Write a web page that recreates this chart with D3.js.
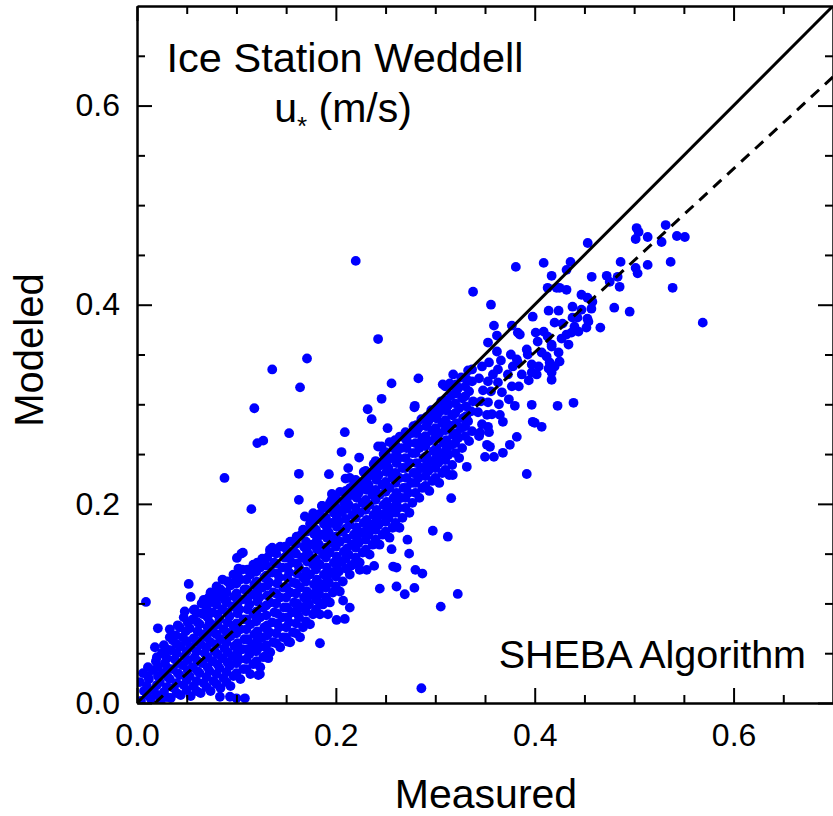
<!DOCTYPE html>
<html>
<head>
<meta charset="utf-8">
<script src="https://d3js.org/d3.v7.min.js"></script>
<style>
  body { margin: 0; background: #fff; }
  svg { display: block; font-family: "Liberation Sans", Arial, sans-serif; }
</style>
</head>
<body>
<svg id="chart" width="833" height="816"></svg>
<script>
// u* measured vs modeled, [measured, modeled] pairs

// dense band, x < 0.12
var bandLow = [
  [0.004,0.002],[0.007,0.012],[0.003,0.021],[0.006,0.030],
  [0.014,0.004],[0.017,0.013],[0.012,0.024],[0.016,0.033],[0.019,0.042],
  [0.024,0.002],[0.027,0.011],[0.023,0.021],[0.026,0.030],[0.028,0.040],[0.025,0.050],[0.027,0.058],
  [0.034,0.005],[0.037,0.015],[0.033,0.024],[0.036,0.034],[0.038,0.044],[0.034,0.053],[0.036,0.063],[0.033,0.074],
  [0.044,0.008],[0.047,0.018],[0.043,0.028],[0.046,0.038],[0.048,0.047],[0.044,0.057],[0.046,0.066],[0.043,0.076],[0.047,0.086],
  [0.054,0.007],[0.057,0.017],[0.053,0.027],[0.056,0.036],[0.058,0.046],[0.054,0.056],[0.057,0.065],[0.053,0.075],[0.056,0.084],[0.058,0.094],
  [0.064,0.010],[0.067,0.020],[0.063,0.030],[0.066,0.040],[0.068,0.050],[0.064,0.059],[0.066,0.069],[0.063,0.079],[0.067,0.089],[0.065,0.100],
  [0.074,0.012],[0.077,0.022],[0.073,0.032],[0.076,0.042],[0.078,0.052],[0.074,0.061],[0.077,0.071],[0.073,0.081],[0.076,0.091],[0.078,0.101],[0.074,0.111],
  [0.084,0.015],[0.087,0.025],[0.083,0.035],[0.086,0.045],[0.088,0.055],[0.084,0.064],[0.087,0.074],[0.083,0.084],[0.086,0.094],[0.088,0.104],[0.084,0.114],[0.086,0.124],
  [0.094,0.017],[0.097,0.027],[0.093,0.037],[0.096,0.047],[0.098,0.057],[0.094,0.067],[0.097,0.077],[0.093,0.087],[0.096,0.097],[0.098,0.107],[0.094,0.118],[0.097,0.129],
  [0.104,0.024],[0.107,0.034],[0.103,0.044],[0.106,0.054],[0.108,0.064],[0.104,0.074],[0.107,0.084],[0.103,0.094],[0.106,0.104],[0.108,0.114],[0.104,0.124],[0.106,0.134],
  [0.114,0.029],[0.117,0.039],[0.113,0.049],[0.116,0.059],[0.118,0.069],[0.114,0.079],[0.117,0.089],[0.113,0.099],[0.116,0.109],[0.118,0.119],[0.114,0.129],[0.117,0.139]
];

// dense band, 0.12 - 0.24
var bandMid = [
  [0.124,0.036],[0.127,0.046],[0.123,0.056],[0.126,0.066],[0.128,0.076],[0.124,0.086],[0.127,0.096],[0.123,0.106],[0.126,0.116],[0.128,0.126],[0.124,0.136],[0.126,0.145],
  [0.134,0.051],[0.137,0.061],[0.133,0.071],[0.136,0.081],[0.138,0.091],[0.134,0.101],[0.137,0.111],[0.133,0.121],[0.136,0.131],[0.138,0.141],[0.134,0.151],
  [0.144,0.056],[0.147,0.066],[0.143,0.076],[0.146,0.086],[0.148,0.096],[0.144,0.106],[0.147,0.116],[0.143,0.126],[0.146,0.136],[0.148,0.146],[0.144,0.157],
  [0.154,0.061],[0.157,0.071],[0.153,0.081],[0.156,0.091],[0.158,0.101],[0.154,0.111],[0.157,0.121],[0.153,0.131],[0.156,0.141],[0.158,0.152],[0.154,0.162],
  [0.164,0.066],[0.167,0.076],[0.163,0.086],[0.166,0.096],[0.168,0.106],[0.164,0.116],[0.167,0.126],[0.163,0.136],[0.166,0.146],[0.168,0.157],[0.164,0.168],
  [0.174,0.079],[0.177,0.089],[0.173,0.099],[0.176,0.109],[0.178,0.119],[0.174,0.129],[0.177,0.139],[0.173,0.149],[0.176,0.159],[0.178,0.170],[0.174,0.180],
  [0.184,0.089],[0.187,0.099],[0.183,0.109],[0.186,0.119],[0.188,0.129],[0.184,0.139],[0.187,0.149],[0.183,0.159],[0.186,0.169],[0.188,0.180],[0.184,0.190],[0.186,0.198],
  [0.194,0.101],[0.197,0.111],[0.193,0.121],[0.196,0.131],[0.198,0.141],[0.194,0.151],[0.197,0.161],[0.193,0.171],[0.196,0.181],[0.198,0.191],[0.194,0.201],[0.196,0.210],
  [0.204,0.112],[0.207,0.122],[0.203,0.132],[0.206,0.142],[0.208,0.152],[0.204,0.162],[0.207,0.172],[0.203,0.182],[0.206,0.192],[0.208,0.202],[0.204,0.212],
  [0.214,0.129],[0.217,0.139],[0.213,0.149],[0.216,0.159],[0.218,0.169],[0.214,0.179],[0.217,0.189],[0.213,0.199],[0.216,0.209],[0.218,0.219],[0.214,0.226],
  [0.224,0.141],[0.227,0.151],[0.223,0.161],[0.226,0.171],[0.228,0.181],[0.224,0.191],[0.227,0.201],[0.223,0.211],[0.226,0.221],[0.228,0.232],
  [0.234,0.149],[0.237,0.159],[0.233,0.169],[0.236,0.179],[0.238,0.189],[0.234,0.199],[0.237,0.209],[0.233,0.219],[0.236,0.229],[0.238,0.240]
];

// dense band, x > 0.24
var bandHigh = [
  [0.244,0.159],[0.247,0.169],[0.243,0.179],[0.246,0.189],[0.248,0.199],[0.244,0.209],[0.247,0.219],[0.243,0.229],[0.246,0.239],[0.248,0.250],
  [0.254,0.166],[0.257,0.176],[0.253,0.186],[0.256,0.196],[0.258,0.206],[0.254,0.216],[0.257,0.226],[0.253,0.236],[0.256,0.246],[0.258,0.256],[0.254,0.262],
  [0.264,0.176],[0.267,0.186],[0.263,0.196],[0.266,0.206],[0.268,0.216],[0.264,0.226],[0.267,0.236],[0.263,0.246],[0.266,0.256],[0.268,0.267],
  [0.274,0.191],[0.277,0.201],[0.273,0.211],[0.276,0.221],[0.278,0.231],[0.274,0.241],[0.277,0.251],[0.273,0.261],[0.276,0.271],[0.278,0.278],
  [0.284,0.206],[0.287,0.216],[0.283,0.226],[0.286,0.236],[0.288,0.246],[0.284,0.256],[0.287,0.266],[0.283,0.276],[0.286,0.285],
  [0.294,0.213],[0.297,0.223],[0.293,0.233],[0.296,0.243],[0.298,0.253],[0.294,0.263],[0.297,0.273],[0.293,0.283],[0.296,0.294],
  [0.304,0.221],[0.307,0.231],[0.303,0.241],[0.306,0.251],[0.308,0.261],[0.304,0.271],[0.307,0.281],[0.303,0.291],[0.306,0.303],
  [0.314,0.229],[0.317,0.239],[0.313,0.249],[0.316,0.259],[0.318,0.269],[0.314,0.279],[0.317,0.289],[0.313,0.299],[0.316,0.309],[0.318,0.318],
  [0.324,0.246],[0.327,0.256],[0.323,0.266],[0.326,0.276],[0.328,0.286],[0.324,0.296],[0.327,0.306],[0.323,0.316],[0.326,0.327],
  [0.334,0.263],[0.337,0.273],[0.333,0.283],[0.336,0.293],[0.338,0.303],[0.334,0.313],[0.337,0.323],[0.333,0.334],
  [0.344,0.268],[0.347,0.280],[0.343,0.292],[0.346,0.303],[0.348,0.314],[0.344,0.326],[0.347,0.338],
  [0.354,0.272],[0.357,0.290],[0.353,0.302],[0.356,0.313],[0.358,0.330],[0.354,0.342],
  [0.364,0.300],[0.367,0.312],[0.363,0.322],[0.366,0.344],
  [0.374,0.305],[0.377,0.318],[0.373,0.330],[0.376,0.350],
  [0.384,0.318],[0.387,0.330],[0.383,0.342],
  [0.394,0.324],[0.397,0.340],[0.393,0.350],
  [0.404,0.338],[0.407,0.352],
  [0.414,0.336],[0.417,0.360],[0.413,0.368],
  [0.424,0.352],[0.427,0.366],
  [0.434,0.360],[0.437,0.372],
  [0.444,0.373],[0.447,0.395],
  [0.454,0.383],[0.457,0.396]
];

// extra points filling the gaps of the densest part
var bandFill = [
  [0.010,0.008],[0.011,0.027],[0.020,0.018],[0.021,0.036],[0.030,0.006],[0.031,0.026],[0.030,0.045],
  [0.040,0.010],[0.041,0.030],[0.040,0.050],[0.039,0.068],[0.050,0.013],[0.051,0.033],[0.050,0.052],[0.049,0.072],
  [0.060,0.012],[0.061,0.032],[0.060,0.052],[0.061,0.072],[0.060,0.090],[0.070,0.016],[0.071,0.036],[0.070,0.056],
  [0.071,0.076],[0.070,0.095],[0.080,0.019],[0.081,0.039],[0.080,0.059],[0.081,0.079],[0.080,0.099],[0.080,0.117],
  [0.090,0.021],[0.091,0.041],[0.090,0.061],[0.091,0.081],[0.090,0.101],[0.091,0.122],[0.100,0.030],[0.101,0.050],
  [0.100,0.070],[0.101,0.090],[0.100,0.110],[0.101,0.128],[0.110,0.034],[0.111,0.054],[0.110,0.074],[0.111,0.094],
  [0.110,0.114],[0.111,0.134],[0.120,0.042],[0.121,0.062],[0.120,0.082],[0.121,0.102],[0.120,0.122],[0.121,0.141],
  [0.130,0.048],[0.131,0.068],[0.130,0.088],[0.131,0.108],[0.130,0.128],[0.131,0.146],[0.140,0.060],[0.141,0.080],
  [0.140,0.100],[0.141,0.120],[0.140,0.140],[0.150,0.066],[0.151,0.086],[0.150,0.106],[0.151,0.126],[0.150,0.146],
  [0.160,0.070],[0.161,0.090],[0.160,0.110],[0.161,0.130],[0.160,0.150],[0.170,0.082],[0.171,0.102],[0.170,0.122],
  [0.171,0.142],[0.170,0.162],[0.180,0.094],[0.181,0.114],[0.180,0.134],[0.181,0.154],[0.180,0.174],[0.190,0.106],
  [0.191,0.126],[0.190,0.146],[0.191,0.166],[0.190,0.186],[0.200,0.117],[0.201,0.137],[0.200,0.157],[0.201,0.177],
  [0.200,0.197],[0.210,0.135],[0.211,0.155],[0.210,0.175],[0.211,0.195],[0.210,0.213],[0.220,0.146],[0.221,0.166],
  [0.220,0.186],[0.221,0.206],[0.220,0.224],[0.230,0.154],[0.231,0.174],[0.230,0.194],[0.231,0.214],[0.230,0.233],
  [0.240,0.164],[0.241,0.184],[0.240,0.204],[0.241,0.224],[0.240,0.243],[0.250,0.172],[0.251,0.192],[0.250,0.212],
  [0.251,0.232],[0.250,0.252],[0.260,0.181],[0.261,0.201],[0.260,0.221],[0.261,0.241],[0.260,0.259],[0.270,0.196],
  [0.271,0.216],[0.270,0.236],[0.271,0.256],[0.270,0.272],[0.280,0.211],[0.281,0.231],[0.280,0.251],[0.281,0.271],
  [0.290,0.218],[0.291,0.238],[0.290,0.258],[0.291,0.278],[0.300,0.226],[0.301,0.246],[0.300,0.266],[0.301,0.286],
  [0.310,0.234],[0.311,0.254],[0.310,0.274],[0.311,0.294],[0.320,0.251],[0.321,0.271],[0.320,0.291],[0.321,0.311],
  [0.330,0.268],[0.331,0.288],[0.330,0.308],[0.331,0.326]
];

// second pass of fill points, between the rows above
var bandFill2 = [
  [0.010,0.017],[0.011,0.036],[0.020,0.008],[0.021,0.027],[0.020,0.046],[0.030,0.016],[0.031,0.035],[0.030,0.054],
  [0.040,0.020],[0.041,0.040],[0.040,0.059],[0.041,0.078],[0.050,0.023],[0.051,0.043],[0.050,0.062],[0.051,0.081],
  [0.060,0.022],[0.061,0.042],[0.060,0.062],[0.061,0.081],[0.070,0.026],[0.071,0.046],[0.070,0.066],[0.071,0.086],
  [0.070,0.104],[0.080,0.029],[0.081,0.049],[0.080,0.069],[0.081,0.089],[0.080,0.108],[0.090,0.031],[0.091,0.051],
  [0.090,0.071],[0.091,0.091],[0.090,0.111],[0.100,0.040],[0.101,0.060],[0.100,0.080],[0.101,0.100],[0.100,0.120],
  [0.110,0.044],[0.111,0.064],[0.110,0.084],[0.111,0.104],[0.110,0.124],[0.120,0.052],[0.121,0.072],[0.120,0.092],
  [0.121,0.112],[0.120,0.132],[0.130,0.058],[0.131,0.078],[0.130,0.098],[0.131,0.118],[0.130,0.138],[0.140,0.070],
  [0.141,0.090],[0.140,0.110],[0.141,0.130],[0.140,0.150],[0.150,0.076],[0.151,0.096],[0.150,0.116],[0.151,0.136],
  [0.150,0.155],[0.160,0.080],[0.161,0.100],[0.160,0.120],[0.161,0.140],[0.160,0.160],[0.170,0.092],[0.171,0.112],
  [0.170,0.132],[0.171,0.152],[0.170,0.172],[0.180,0.104],[0.181,0.124],[0.180,0.144],[0.181,0.164],[0.180,0.184],
  [0.190,0.116],[0.191,0.136],[0.190,0.156],[0.191,0.176],[0.190,0.196],[0.200,0.127],[0.201,0.147],[0.200,0.167],
  [0.201,0.187],[0.200,0.206],[0.210,0.145],[0.211,0.165],[0.210,0.185],[0.211,0.204],[0.220,0.156],[0.221,0.176],
  [0.220,0.196],[0.221,0.215],[0.230,0.164],[0.231,0.184],[0.230,0.204],[0.231,0.224],[0.240,0.174],[0.241,0.194],
  [0.240,0.214],[0.241,0.234],[0.250,0.182],[0.251,0.202],[0.250,0.222],[0.251,0.242],[0.260,0.191],[0.261,0.211],
  [0.260,0.231],[0.261,0.251],[0.270,0.206],[0.271,0.226],[0.270,0.246],[0.271,0.264],[0.280,0.221],[0.281,0.241],
  [0.280,0.261],[0.281,0.279],[0.290,0.228],[0.291,0.248],[0.290,0.268],[0.291,0.287],[0.300,0.236],[0.301,0.256],
  [0.300,0.276],[0.301,0.296],[0.310,0.244],[0.311,0.264],[0.310,0.284],[0.311,0.304],[0.320,0.261],[0.321,0.281],
  [0.320,0.301],[0.321,0.320],[0.330,0.278],[0.331,0.298],[0.330,0.318]
];

// scattered points above the band
var scatterAbove = [
  [0.009,0.1015],[0.021,0.075],[0.018,0.056],[0.033,0.066],[0.048,0.092],[0.052,0.1196],[0.054,0.1065],
  [0.057,0.0935],[0.065,0.090],[0.067,0.1035],[0.072,0.1005],[0.073,0.107],[0.082,0.107],[0.087,0.107],
  [0.090,0.1035],[0.088,0.226],[0.097,0.120],[0.1005,0.1457],[0.102,0.135],[0.105,0.150],[0.1065,0.151],
  [0.115,0.1947],[0.118,0.296],[0.121,0.261],[0.127,0.2635],[0.1337,0.154],[0.136,0.156],[0.136,0.335],
  [0.149,0.157],[0.153,0.271],[0.154,0.149],[0.1605,0.167],[0.164,0.317],[0.167,0.174],[0.171,0.346],
  [0.1628,0.2302],[0.1628,0.204],[0.1688,0.1873],[0.1756,0.1856],[0.1772,0.1906],[0.1862,0.198],
  [0.1873,0.184],[0.193,0.2298],[0.1957,0.204],[0.204,0.194],[0.2057,0.252],[0.209,0.272],[0.2097,0.2254],
  [0.2124,0.2359],[0.214,0.2158],[0.220,0.444],[0.2234,0.2465],[0.224,0.2174],[0.2308,0.229],[0.232,0.295],
  [0.236,0.285],[0.240,0.2375],[0.2425,0.3655],[0.2425,0.2576],[0.246,0.2576],[0.246,0.3055],[0.251,0.244],
  [0.252,0.276],[0.256,0.321],[0.2576,0.261],[0.2595,0.264],[0.2643,0.2676],[0.271,0.266],[0.2777,0.2727],
  [0.279,0.297],[0.2794,0.2985],[0.283,0.326],[0.2877,0.261],[0.2962,0.2877],[0.3012,0.271],[0.3079,0.2945],
  [0.3075,0.320],[0.310,0.318],[0.3146,0.321],[0.318,0.330],[0.337,0.335],[0.338,0.413]
];

// scattered points below the band
var scatterBelow = [
  [0.0834,0.0063],[0.0935,0.0063],[0.100,0.0047],[0.1085,0.0047],[0.122,0.028],[0.1236,0.029],
  [0.1286,0.0566],[0.132,0.045],[0.152,0.0616],[0.1605,0.0935],[0.183,0.112],[0.184,0.100],[0.184,0.060],
  [0.1906,0.104],[0.192,0.089],[0.2007,0.0834],[0.209,0.0844],[0.2073,0.1028],[0.214,0.0958],[0.215,0.1377],
  [0.224,0.1337],[0.231,0.1337],[0.2385,0.1377],[0.2442,0.1149],[0.256,0.1545],[0.2576,0.137],[0.261,0.136],
  [0.261,0.117],[0.2693,0.1092],[0.272,0.164],[0.2737,0.150],[0.279,0.1156],[0.280,0.1337],[0.287,0.130],
  [0.286,0.0148],[0.2975,0.173],[0.3055,0.0968],[0.3126,0.167],[0.316,0.2057],[0.3226,0.1095],[0.3176,0.229],
  [0.3317,0.2372],[0.345,0.2714],[0.350,0.2472],[0.352,0.2593],[0.355,0.2573],[0.359,0.2472],[0.368,0.2513],
  [0.352,0.2894],[0.353,0.2774],[0.365,0.2894],[0.368,0.2824],[0.375,0.2593],[0.382,0.2673],[0.380,0.2985],
  [0.392,0.230],[0.397,0.2995],[0.398,0.2824],[0.407,0.2774],[0.400,0.2814],[0.417,0.3246],[0.423,0.2985],
  [0.439,0.3015]
];

// upper-right points
var scatterTop = [
  [0.356,0.400],[0.359,0.379],[0.362,0.369],[0.353,0.362],[0.362,0.353],[0.363,0.335],[0.353,0.323],
  [0.377,0.379],[0.381,0.438],[0.383,0.372],[0.385,0.370],[0.378,0.338],[0.382,0.345],[0.392,0.355],
  [0.397,0.332],[0.398,0.388],[0.401,0.372],[0.402,0.330],[0.403,0.363],[0.409,0.373],[0.409,0.442],
  [0.412,0.348],[0.413,0.417],[0.414,0.394],[0.415,0.342],[0.417,0.429],[0.417,0.358],[0.417,0.332],
  [0.420,0.382],[0.420,0.338],[0.422,0.417],[0.424,0.394],[0.425,0.343],[0.425,0.417],[0.428,0.381],
  [0.432,0.435],[0.432,0.415],[0.432,0.370],[0.436,0.443],[0.438,0.398],[0.438,0.387],[0.440,0.378],
  [0.443,0.387],[0.447,0.410],[0.452,0.377],[0.453,0.407],[0.453,0.386],[0.4533,0.462],[0.4573,0.428],
  [0.458,0.403],[0.466,0.377],[0.4724,0.429],[0.4754,0.423],[0.480,0.397],[0.4834,0.428],[0.4854,0.418],
  [0.4864,0.443],[0.4955,0.393],[0.5015,0.437],[0.5035,0.4315],[0.5015,0.466],[0.5025,0.477],[0.5045,0.473],
  [0.5136,0.468],[0.5136,0.440],[0.5276,0.463],[0.5317,0.480],[0.5367,0.443],[0.5387,0.417],[0.543,0.469],
  [0.551,0.468],[0.569,0.382]
];

// dashed fit line: modeled = slope * measured + intercept
var fitSlope = 0.922, fitIntercept = -0.0166;

var majorTicks = [0, 0.2, 0.4, 0.6];
var minorTicks = [0.05, 0.1, 0.15, 0.25, 0.3, 0.35, 0.45, 0.5, 0.55, 0.65];

var svg = d3.select("#chart"),
    margin = {top: 6, right: 0, bottom: 113, left: 137},
    width  = +svg.attr("width")  - margin.left - margin.right,
    height = +svg.attr("height") - margin.top  - margin.bottom;

var x = d3.scaleLinear().domain([0, 0.7]).range([0, width]),
    y = d3.scaleLinear().domain([0, 0.7]).range([height, 0]);

svg.append("rect").attr("width", 833).attr("height", 816).attr("fill", "#fff");

svg.append("defs").append("clipPath")
    .attr("id", "clip")
  .append("rect")
    .attr("width", width)
    .attr("height", height);

var g = svg.append("g")
    .attr("transform", "translate(" + margin.left + "," + margin.top + ")");

var points = bandLow.concat(bandMid, bandHigh, bandFill, bandFill2, scatterAbove, scatterBelow, scatterTop);

g.append("g")
    .attr("clip-path", "url(#clip)")
  .selectAll("circle")
  .data(points)
  .enter().append("circle")
    .attr("cx", function(d) { return x(d[0]); })
    .attr("cy", function(d) { return y(d[1]); })
    .attr("r", 4.9)
    .attr("fill", "#0000ff");

var line = d3.line()
    .x(function(d) { return x(d[0]); })
    .y(function(d) { return y(d[1]); });

var lines = g.append("g").attr("clip-path", "url(#clip)");

lines.append("path")
    .datum([[0, 0], [0.7, 0.7]])
    .attr("d", line)
    .attr("fill", "none")
    .attr("stroke", "#000")
    .attr("stroke-width", 3);

var x0 = -fitIntercept / fitSlope;
lines.append("path")
    .datum([[x0, 0], [0.7, fitSlope * 0.7 + fitIntercept]])
    .attr("d", line)
    .attr("fill", "none")
    .attr("stroke", "#000")
    .attr("stroke-width", 3)
    .attr("stroke-dasharray", "11,8");

// axes: major ticks with labels, minor ticks without, all pointing inward
function styleAxis(sel) {
  sel.selectAll(".tick line").attr("stroke", "#000").attr("stroke-width", 2);
  sel.selectAll(".tick text").attr("fill", "#000").attr("font-size", 32)
      .attr("font-family", "'Liberation Sans', Arial, sans-serif");
  sel.select(".domain").attr("stroke", "#000").attr("stroke-width", 2.5);
}

function addAxis(axisFn, scale, transform, labels) {
  var major = axisFn(scale).tickValues(majorTicks).tickSizeInner(-15).tickSizeOuter(0)
      .tickPadding(axisFn === d3.axisBottom ? 20 : 17)
      .tickFormat(labels ? d3.format(".1f") : "");
  var minor = axisFn(scale).tickValues(minorTicks).tickSizeInner(-8).tickSizeOuter(0).tickFormat("");
  var ag = g.append("g").attr("transform", transform).call(major).call(styleAxis);
  g.append("g").attr("transform", transform).call(minor).call(styleAxis)
      .select(".domain").remove();
  return ag;
}

addAxis(d3.axisBottom, x, "translate(0," + height + ")", true);
addAxis(d3.axisTop, x, "translate(0,0)", false);
addAxis(d3.axisLeft, y, "translate(0,0)", true);
addAxis(d3.axisRight, y, "translate(" + width + ",0)", false);

// titles
svg.append("text")
    .attr("x", 486).attr("y", 808)
    .attr("text-anchor", "middle")
    .attr("font-size", 41)
    .text("Measured");

svg.append("text")
    .attr("transform", "translate(43,350) rotate(-90)")
    .attr("text-anchor", "middle")
    .attr("font-size", 40)
    .text("Modeled");

svg.append("text")
    .attr("x", 345).attr("y", 72)
    .attr("text-anchor", "middle")
    .attr("font-size", 41.5)
    .text("Ice Station Weddell");

var sub = svg.append("text")
    .attr("x", 343).attr("y", 122)
    .attr("text-anchor", "middle")
    .attr("font-size", 41);
sub.append("tspan").text("u");
sub.append("tspan").attr("font-size", 26).attr("dy", 13).text("*");
sub.append("tspan").attr("dy", -13).text(" (m/s)");

svg.append("text")
    .attr("x", 806).attr("y", 668)
    .attr("text-anchor", "end")
    .attr("font-size", 39.5)
    .text("SHEBA Algorithm");
</script>
</body>
</html>
